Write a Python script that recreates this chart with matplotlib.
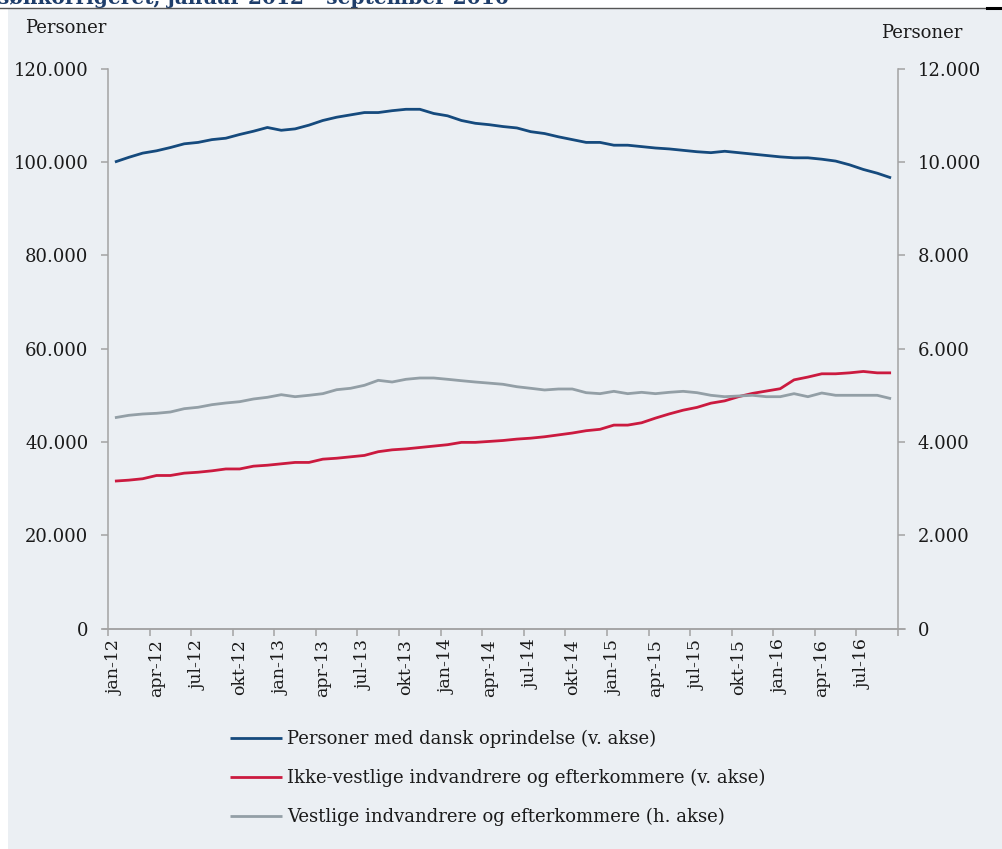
import matplotlib
matplotlib.use("Agg")
import matplotlib.pyplot as plt
import matplotlib.patches as mpatches
from matplotlib.lines import Line2D
import numpy as np

# ---------------- data ----------------
months = ["jan", "feb", "mar", "apr", "maj", "jun", "jul", "aug", "sep", "okt", "nov", "dec"]
years = ["12", "13", "14", "15", "16"]
categories = [f"{m}-{y}" for y in years for m in months][:57]  # jan-12 .. sep-16

dansk = [100.0, 101.0, 101.9, 102.4, 103.1, 103.9, 104.2, 104.8, 105.1, 105.9,
         106.6, 107.4, 106.8, 107.1, 107.9, 108.9, 109.6, 110.1, 110.6, 110.6,
         111.0, 111.3, 111.3, 110.4, 109.9, 108.9, 108.3, 108.0, 107.6, 107.3,
         106.5, 106.1, 105.4, 104.8, 104.2, 104.2, 103.6, 103.6, 103.3, 103.0,
         102.8, 102.5, 102.2, 102.0, 102.3, 102.0, 101.7, 101.4, 101.1, 100.9,
         100.9, 100.6, 100.2, 99.4, 98.4, 97.6, 96.6]
ikke_vestlige = [31.6, 31.8, 32.1, 32.8, 32.8, 33.3, 33.5, 33.8, 34.2, 34.2,
                 34.8, 35.0, 35.3, 35.6, 35.6, 36.3, 36.5, 36.8, 37.1, 37.9,
                 38.3, 38.5, 38.8, 39.1, 39.4, 39.9, 39.9, 40.1, 40.3, 40.6,
                 40.8, 41.1, 41.5, 41.9, 42.4, 42.7, 43.6, 43.6, 44.1, 45.1,
                 46.0, 46.8, 47.4, 48.3, 48.8, 49.7, 50.4, 50.9, 51.4, 53.3,
                 53.9, 54.6, 54.6, 54.8, 55.1, 54.8, 54.8]
vestlige = [4519, 4570, 4598, 4613, 4641, 4712, 4742, 4798, 4834, 4862,
            4920, 4956, 5012, 4969, 4999, 5034, 5119, 5149, 5213, 5320,
            5284, 5342, 5370, 5370, 5342, 5312, 5284, 5260, 5235, 5183,
            5149, 5113, 5134, 5134, 5055, 5034, 5084, 5034, 5063, 5034,
            5063, 5084, 5055, 4999, 4969, 4984, 4999, 4969, 4969, 5034,
            4969, 5048, 4999, 4999, 4999, 4999, 4927]
dansk = [v * 1000 for v in dansk]
ikke_vestlige = [v * 1000 for v in ikke_vestlige]

labels = ["Personer med dansk oprindelse (v. akse)",
          "Ikke-vestlige indvandrere og efterkommere (v. akse)",
          "Vestlige indvandrere og efterkommere (h. akse)"]
left_ticks = [0, 20000, 40000, 60000, 80000, 100000, 120000]
right_ticks = [0, 2000, 4000, 6000, 8000, 10000, 12000]

# ---------------- style ----------------
FONT = "DejaVu Serif"
plt.rcParams["font.family"] = FONT
BG = "#EBEFF3"
C_BLUE = "#154A7D"
C_RED = "#CB1A3F"
C_GRAY = "#939FA6"
C_SPINE = "#A3A3A3"
TXT = "#1A1A1A"

W, H = 1002, 849
fig = plt.figure(figsize=(W / 100, H / 100), dpi=100, facecolor="white")

# panel background
fig.patches.append(mpatches.Rectangle((8 / W, 0), 1 - 8 / W, 1 - 8 / H,
                                      transform=fig.transFigure, facecolor=BG,
                                      edgecolor="none", zorder=-5))
# cropped title line at the very top
fig.text(-2 / W, 1 - 4 / H, "sønkorrigeret, januar 2012 - september 2016",
         fontsize=14.5, fontweight="bold", color="#1F3E6B", va="baseline", ha="left",
         zorder=-4)
fig.add_artist(Line2D([0, 987 / W], [1 - 7.5 / H, 1 - 7.5 / H], transform=fig.transFigure,
                      color="#555555", lw=1.0))
fig.add_artist(Line2D([987 / W, 1], [1 - 7.5 / H, 1 - 7.5 / H], transform=fig.transFigure,
                      color="black", lw=2.2))

left, right = 108 / W, 898 / W
bottom, top = 1 - 628.5 / H, 1 - 68.7 / H
ax = fig.add_axes([left, bottom, right - left, top - bottom], zorder=2)
ax.set_facecolor("none")
ax2 = ax.twinx()
ax2.set_facecolor("none")

x = np.arange(len(categories))
l1, = ax.plot(x, dansk, color=C_BLUE, lw=2.0, solid_capstyle="butt")
l2, = ax.plot(x, ikke_vestlige, color=C_RED, lw=2.0, solid_capstyle="butt")
l3, = ax2.plot(x, vestlige, color=C_GRAY, lw=2.0, solid_capstyle="butt")

ax.set_xlim(-0.5, len(categories) - 0.5)
ax.set_ylim(0, 120000)
ax2.set_ylim(0, 12000)

fmt = lambda v: f"{v:,}".replace(",", ".")
ax.set_yticks(left_ticks)
ax.set_yticklabels([fmt(v) for v in left_ticks])
ax2.set_yticks(right_ticks)
ax2.set_yticklabels([fmt(v) for v in right_ticks])

ax.set_xticks(np.arange(-0.5, len(categories), 3))
ax.set_xticklabels([])
ax.set_xticks(x[::3], minor=True)
ax.set_xticklabels([categories[i] for i in x[::3]], minor=True, rotation=90)
ax.tick_params(axis="x", which="major", length=5, width=1.1, color=C_SPINE, direction="out")
ax.tick_params(axis="x", which="minor", length=0, pad=8, labelsize=12.5, labelcolor=TXT)
ax.tick_params(axis="y", length=5, width=1.1, color=C_SPINE, pad=9, labelsize=13, labelcolor=TXT)
ax2.tick_params(axis="y", length=5, width=1.1, color=C_SPINE, pad=9, labelsize=13, labelcolor=TXT)

for a in (ax, ax2):
    a.spines["top"].set_visible(False)
    for s in ("left", "right", "bottom"):
        a.spines[s].set_color(C_SPINE)
        a.spines[s].set_linewidth(1.1)
ax2.spines["bottom"].set_visible(False)
ax2.spines["left"].set_visible(False)
ax.spines["right"].set_visible(False)

# x-axis line overshoot beyond the y axes
ax.plot([-0.5 - 5 / 13.86, len(categories) - 0.5 + 7 / 13.86], [0, 0], color=C_SPINE,
        lw=1.1, clip_on=False, zorder=1)

fig.text(25 / W, 1 - 28 / H, "Personer", fontsize=13, color=TXT, va="center", ha="left")
fig.text(962 / W, 1 - 33 / H, "Personer", fontsize=13, color=TXT, va="center", ha="right")

leg = fig.legend([l1, l2, l3], labels, loc="upper left",
                 bbox_to_anchor=(230 / W, 1 - 730 / H), frameon=False,
                 fontsize=13, handlelength=2.9, handletextpad=0.25,
                 labelspacing=1.15, borderaxespad=0, borderpad=0)
for t in leg.get_texts():
    t.set_color(TXT)

fig.savefig("out.png", dpi=100, facecolor="white")
